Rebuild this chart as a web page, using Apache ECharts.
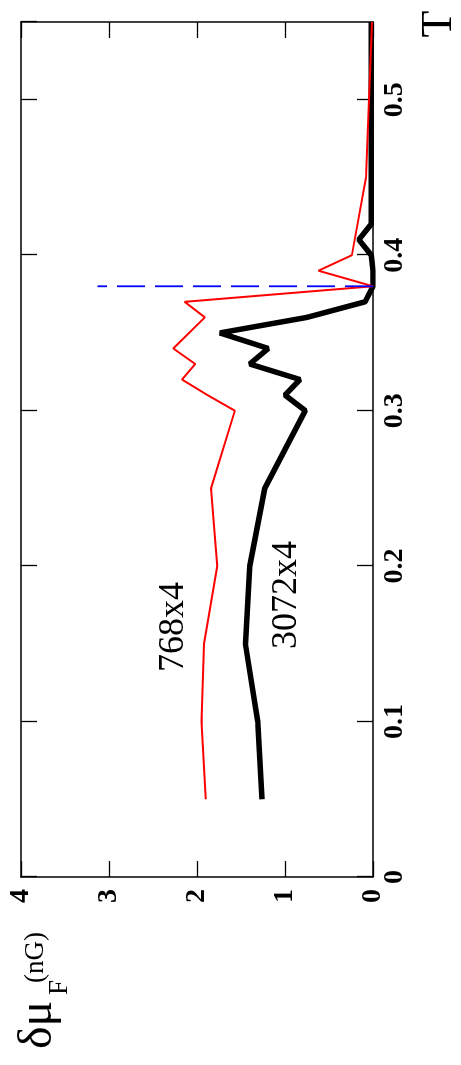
<!DOCTYPE html>
<html>
<head>
<meta charset="utf-8">
<script src="https://cdn.jsdelivr.net/npm/echarts@6/dist/echarts.min.js"></script>
<style>
  html, body { margin: 0; padding: 0; overflow: hidden; background: #fff; }
  #wrap {
    position: absolute; left: 0; top: 0;
    width: 1065px; height: 461px;
    transform-origin: 0 0;
    transform: translateY(1065px) rotate(-90deg);
  }
</style>
</head>
<body>
<div id="wrap"></div>
<script>
// 温度 T 与 δμ_F 数据
const tSmall = [0.05, 0.1, 0.15, 0.2, 0.25, 0.3, 0.31, 0.32, 0.33, 0.34, 0.36, 0.37, 0.38, 0.39, 0.40, 0.45, 0.5, 0.55];
const mu768 = [1.90, 1.95, 1.92, 1.77, 1.84, 1.57, 1.88, 2.17, 2.02, 2.27, 1.91, 2.14, 0.0, 0.62, 0.24, 0.08, 0.045, 0.01];

const tLarge = [0.05, 0.1, 0.15, 0.2, 0.25, 0.3, 0.31, 0.32, 0.33, 0.34, 0.35, 0.36, 0.37, 0.38, 0.39, 0.40, 0.41, 0.42, 0.45, 0.5, 0.55];
const mu3072 = [1.26, 1.31, 1.45, 1.40, 1.23, 0.77, 1.0, 0.83, 1.40, 1.19, 1.74, 0.75, 0.09, 0.0, 0.0, 0.02, 0.16, 0.02, 0.02, 0.02, 0.02];

// 临界温度处的竖直虚线
const tc = 0.38;
const tcLine = [0, 3.13];

const xTicks = { min: 0, max: 0.55, interval: 0.1 };
const yTicks = { min: 0, max: 4, interval: 1 };

const serif = '"Liberation Serif", "DejaVu Serif", serif';

const pairs = (xs, ys) => xs.map((x, i) => [x, ys[i]]);

const tickStyle = { show: true, inside: true, length: 16, lineStyle: { color: '#000', width: 1.3 } };
const lineStyle = { show: true, onZero: false, lineStyle: { color: '#000', width: 1.5 } };

const myChart = echarts.init(document.getElementById('wrap'), null, { renderer: 'canvas' });
myChart.setOption({
    animation: false,
    grid: { left: 188, right: 22, top: 21, bottom: 88 },
    xAxis: [
        {
            type: 'value', position: 'bottom', ...xTicks,
            axisLine: lineStyle, axisTick: tickStyle, splitLine: { show: false },
            axisLabel: {
                showMaxLabel: false, margin: 8,
                fontFamily: serif, fontSize: 28, fontWeight: 'bold', color: '#000'
            }
        },
        {
            type: 'value', position: 'top', ...xTicks,
            axisLine: lineStyle, axisTick: tickStyle, splitLine: { show: false },
            axisLabel: { show: false }
        }
    ],
    yAxis: [
        {
            type: 'value', position: 'left', ...yTicks,
            axisLine: lineStyle, axisTick: tickStyle, splitLine: { show: false },
            axisLabel: {
                margin: 12,
                fontFamily: serif, fontSize: 28, fontWeight: 'bold', color: '#000'
            }
        },
        {
            type: 'value', position: 'right', ...yTicks,
            axisLine: lineStyle, axisTick: tickStyle, splitLine: { show: false },
            axisLabel: { show: false }
        }
    ],
    series: [
        {
            name: '3072x4', type: 'line', data: pairs(tLarge, mu3072),
            showSymbol: false, lineStyle: { color: '#000', width: 5.5 }, z: 2
        },
        {
            name: '768x4', type: 'line', data: pairs(tSmall, mu768),
            showSymbol: false, lineStyle: { color: '#ff0000', width: 2 }, z: 3
        },
        {
            name: 'Tc', type: 'line', data: tcLine.map(v => [tc, v]),
            showSymbol: false, z: 4,
            lineStyle: { color: '#0000ff', width: 1.8, type: [28, 10], dashOffset: 0 }
        }
    ],
    graphic: [
        { type: 'text', x: 438, y: 174, style: { text: '768x4', font: '36px ' + serif, fill: '#000', align: 'center', verticalAlign: 'middle' } },
        { type: 'text', x: 470, y: 287, style: { text: '3072x4', font: '36px ' + serif, fill: '#000', align: 'center', verticalAlign: 'middle' } },
        // 纵轴名称 δμ_F^(nG)
        { type: 'text', x: 16, y: 38, style: { text: 'δμ', font: '48px ' + serif, fill: '#000', align: 'left', verticalAlign: 'middle' } },
        { type: 'text', x: 70, y: 60, style: { text: 'F', font: '27px ' + serif, fill: '#000', align: 'left', verticalAlign: 'middle' } },
        { type: 'text', x: 82, y: 36, style: { text: '(nG)', font: '27px ' + serif, fill: '#000', align: 'left', verticalAlign: 'middle' } },
        // 横轴名称 T
        { type: 'text', x: 1041, y: 439, style: { text: 'T', font: '44px ' + serif, fill: '#000', align: 'center', verticalAlign: 'middle' } }
    ]
});
</script>
</body>
</html>
